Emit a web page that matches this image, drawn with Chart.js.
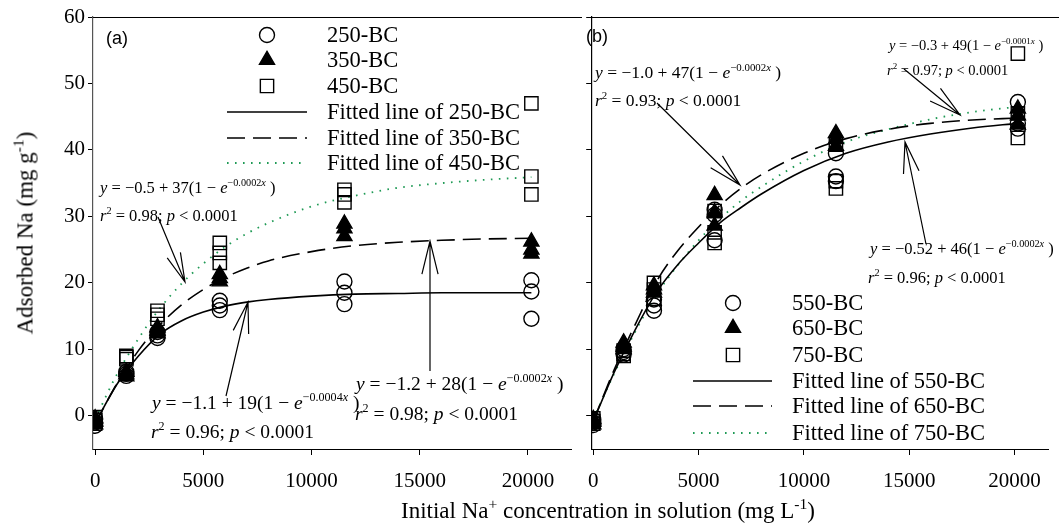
<!DOCTYPE html>
<html><head><meta charset="utf-8">
<script src="https://cdn.jsdelivr.net/npm/chart.js@4"></script>
<style>
html,body{margin:0;padding:0;background:#fff;overflow:hidden;width:1059px;height:527px;}
#wrap{position:relative;width:1059px;height:527px;background:#fff;}
canvas{position:absolute;top:0;}
.t{position:absolute;font-family:"Liberation Serif","Times New Roman",serif;font-size:23px;color:#000;white-space:nowrap;line-height:1;}
.t sup{font-size:0.68em;vertical-align:0.55em;line-height:0;}
#xt{left:608px;top:510px;transform:translate(-50%,-50%);}
#yt{left:25px;top:233px;transform:translate(-50%,-50%) rotate(-90deg);}
</style></head><body>
<div id="wrap">
<canvas id="cL" width="582" height="527" style="left:0px"></canvas>
<canvas id="cR" width="485" height="527" style="left:574px"></canvas>
<div class="t" id="xt">Initial Na<sup>+</sup> concentration in solution (mg L<sup>-1</sup>)</div>
<div class="t" id="yt">Adsorbed Na (mg g<sup>-1</sup>)</div>
</div>
<script>
// ---------------- data ----------------
const concX = [0, 1440, 2880, 5760, 11520, 20160];
const xTicks = [0, 5000, 10000, 15000, 20000];
const yTicks = [0, 10, 20, 30, 40, 50, 60];

// replicate values at each concentration (panel a)
const bc250 = [[-0.5,-1.0,-1.5],[6.0,6.3,6.6],[11.7,12.1,12.6],[15.9,16.6,17.3],[16.8,18.5,20.2],[14.6,18.7,20.4]];
const bc350 = [[-0.4,-0.9,-1.3],[5.9,6.2,6.6],[12.4,12.8,13.3],[20.2,20.7,21.3],[27.0,28.2,28.9],[24.4,25.0,26.2]];
const bc450 = [[-0.2,-0.7,-1.2],[8.5,8.8,9.0],[14.6,15.2,15.8],[23.0,24.5,26.0],[32.1,33.3,34.0],[33.3,36.0,47.0]];
// panel b
const bc550 = [[-0.6,-1.0,-1.4],[9.2,9.6,10.0],[15.8,16.6,17.5],[26.4,30.2,31.0],[35.3,36.0,39.5],[43.2,44.0,47.2]];
const bc650 = [[-0.5,-0.9,-1.3],[10.0,10.4,11.0],[18.5,19.0,19.6],[28.6,30.6,33.2],[40.6,41.6,42.5],[43.8,45.2,46.2]];
const bc750 = [[-0.4,-0.8,-1.2],[9.0,9.3,9.8],[17.6,19.0,20.0],[26.0,27.6,30.8],[34.2,35.3,40.8],[41.8,45.5,54.5]];

// fitted curves
const fitX   = [0, 1000, 2000, 3000, 4000, 5000, 6000, 7000, 8000, 10000, 12000, 14000, 16000, 18000, 20160];
const fit250 = [-1.1, 4.7, 9.0, 12.3, 14.3, 15.6, 16.5, 17.1, 17.5, 18.0, 18.3, 18.4, 18.5, 18.5, 18.5];
const fit350 = [-1.2, 4.8, 9.8, 13.7, 16.7, 19.0, 20.8, 22.2, 23.3, 24.7, 25.6, 26.1, 26.4, 26.6, 26.7];
const fit450 = [-0.5, 6.2, 11.6, 16.2, 19.9, 22.9, 25.4, 27.4, 29.0, 31.5, 33.1, 34.3, 35.0, 35.5, 35.9];
const fit550 = [-0.8, 6.6, 13.0, 18.6, 22.7, 26.0, 29.0, 31.3, 33.4, 36.9, 39.5, 41.2, 42.4, 43.3, 44.0];
const fit650 = [-0.8, 7.0, 13.8, 20.2, 24.8, 28.4, 31.6, 34.2, 36.3, 39.5, 41.7, 43.1, 44.0, 44.5, 44.8];
const fit750 = [-0.5, 6.4, 12.7, 18.2, 22.6, 26.4, 29.6, 32.3, 34.5, 38.3, 41.2, 43.1, 44.6, 45.7, 46.5];

const labelsA = ['250-BC', '350-BC', '450-BC', 'Fitted line of 250-BC', 'Fitted line of 350-BC', 'Fitted line of 450-BC'];
const labelsB = ['550-BC', '650-BC', '750-BC', 'Fitted line of 550-BC', 'Fitted line of 650-BC', 'Fitted line of 750-BC'];

// equation texts: [intercept, amplitude, rate, r2]
const eqA = [['\u22120.5', '37', '0.0002', '0.98'], ['\u22121.1', '19', '0.0004', '0.96'], ['\u22121.2', '28', '0.0002', '0.98']];
const eqB = [['\u22121.0', '47', '0.0002', '0.93'], ['\u22120.3', '49', '0.0001', '0.97'], ['\u22120.52', '46', '0.0002', '0.96']];

// ---------------- helpers ----------------
const SERIF = '"Liberation Serif","Times New Roman",serif';
const SANS = '"Liberation Sans",Arial,sans-serif';
const GREEN = '#1f9a55';

function pts(xs, reps) {
  const out = [];
  xs.forEach((x, i) => reps[i].forEach(v => out.push({x: x, y: v})));
  return out;
}
function curve(xs, ys) { return xs.map((x, i) => ({x: x, y: ys[i]})); }

const markerStyles = [
  {pointStyle: 'circle', radius: 7.5, fill: 'rgba(0,0,0,0)'},
  {pointStyle: 'triangle', radius: 8.7, fill: '#000'},
  {pointStyle: 'rect', radius: 9.4, fill: 'rgba(0,0,0,0)'}
];
const lineStyles = [
  {color: '#000', dash: [], width: 1.6},
  {color: '#000', dash: [18, 8], width: 1.6},
  {color: GREEN, dash: [1.6, 6.4], width: 1.8}
];

function datasets(series, fits) {
  const ds = [];
  series.forEach((s, i) => {
    const m = markerStyles[i];
    ds.push({data: pts(concX, s), showLine: false, pointStyle: m.pointStyle, pointRadius: m.radius,
      pointHoverRadius: m.radius, backgroundColor: m.fill, borderColor: '#000', pointBorderWidth: 1.4, borderWidth: 1.4});
  });
  fits.forEach((f, i) => {
    const l = lineStyles[i];
    ds.push({data: curve(fitX, f), showLine: true, pointRadius: 0, borderColor: l.color, borderWidth: l.width,
      borderDash: l.dash, cubicInterpolationMode: 'monotone', fill: false});
  });
  return ds;
}

function rich(ctx, x, y, size, segs) {
  let cx = x;
  ctx.fillStyle = '#000';
  ctx.textAlign = 'left';
  ctx.textBaseline = 'alphabetic';
  for (const [t, f] of segs) {
    const it = f.includes('i'), sp = f.includes('s');
    const fs = sp ? size * 0.62 : size;
    ctx.font = (it ? 'italic ' : '') + fs + 'px ' + SERIF;
    ctx.fillText(t, cx, sp ? y - size * 0.42 : y);
    cx += ctx.measureText(t).width;
  }
}
function eqLine(e) {
  return [['y', 'i'], [' = ' + e[0] + ' + ' + e[1] + '(1 \u2212 ', ''], ['e', 'i'], ['\u2212' + e[2], 's'], ['x', 'is'], [' )', '']];
}
function rLine(e) {
  return [['r', 'i'], ['2', 's'], [' = ' + e[3] + '; ', ''], ['p', 'i'], [' < 0.0001', '']];
}
function arrow(ctx, x1, y1, x2, y2, L, ang) {
  ctx.save();
  ctx.strokeStyle = '#000';
  ctx.lineWidth = 1.2;
  ctx.setLineDash([]);
  ctx.beginPath();
  ctx.moveTo(x1, y1); ctx.lineTo(x2, y2);
  const a = Math.atan2(y1 - y2, x1 - x2);
  ctx.moveTo(x2 + L * Math.cos(a + ang), y2 + L * Math.sin(a + ang));
  ctx.lineTo(x2, y2);
  ctx.lineTo(x2 + L * Math.cos(a - ang), y2 + L * Math.sin(a - ang));
  ctx.stroke();
  ctx.restore();
}
function marker(ctx, i, x, y) {
  const m = markerStyles[i];
  ctx.save();
  ctx.strokeStyle = '#000'; ctx.lineWidth = 1.4; ctx.setLineDash([]);
  ctx.beginPath();
  if (m.pointStyle === 'circle') {
    ctx.arc(x, y, m.radius, 0, Math.PI * 2);
    ctx.stroke();
  } else if (m.pointStyle === 'triangle') {
    const r = m.radius;
    ctx.moveTo(x, y - r);
    ctx.lineTo(x + Math.sin(2 * Math.PI / 3) * r, y - Math.cos(2 * Math.PI / 3) * r);
    ctx.lineTo(x + Math.sin(4 * Math.PI / 3) * r, y - Math.cos(4 * Math.PI / 3) * r);
    ctx.closePath();
    ctx.fillStyle = '#000'; ctx.fill(); ctx.stroke();
  } else {
    const s = m.radius * Math.SQRT1_2;
    ctx.rect(x - s, y - s, 2 * s, 2 * s);
    ctx.stroke();
  }
  ctx.restore();
}
function legend(ctx, labels, mx, lx1, lx2, tx, rows) {
  ctx.save();
  for (let i = 0; i < 3; i++) marker(ctx, i, mx, rows[i]);
  for (let i = 0; i < 3; i++) {
    const l = lineStyles[i];
    ctx.strokeStyle = l.color; ctx.lineWidth = l.width; ctx.setLineDash(l.dash);
    ctx.beginPath(); ctx.moveTo(lx1, rows[i + 3]); ctx.lineTo(lx2, rows[i + 3]); ctx.stroke();
  }
  ctx.setLineDash([]);
  ctx.fillStyle = '#000';
  ctx.font = '22.5px ' + SERIF;
  ctx.textAlign = 'left';
  ctx.textBaseline = 'middle';
  labels.forEach((t, i) => ctx.fillText(t, tx, rows[i] + 1));
  ctx.restore();
}
function topBorder(chart) {
  const {ctx, chartArea} = chart;
  ctx.save();
  ctx.strokeStyle = '#000'; ctx.lineWidth = 1;
  ctx.beginPath();
  ctx.moveTo(chartArea.left, Math.round(chartArea.top) + 0.5);
  ctx.lineTo(chart.width, Math.round(chartArea.top) + 0.5);
  ctx.stroke();
  ctx.restore();
}

function scales(min, max, showY, yWidth, yBorder) {
  return {
    x: {
      type: 'linear', min: min, max: max,
      afterBuildTicks: s => { s.ticks = xTicks.map(v => ({value: v})); },
      afterFit: s => { s.height = 78; },
      grid: {drawOnChartArea: false, color: '#000', tickLength: 6, lineWidth: 1},
      border: {color: '#000', width: 1},
      ticks: {color: '#000', font: {family: SERIF, size: 21}, padding: 14, maxRotation: 0, autoSkip: false,
        callback: v => String(v)}
    },
    y: {
      type: 'linear', min: -5, max: 60,
      afterBuildTicks: s => { s.ticks = yTicks.map(v => ({value: v})); },
      afterFit: s => { s.width = yWidth; },
      grid: {drawOnChartArea: false, color: '#000', tickLength: 5, lineWidth: 1},
      border: {color: yBorder, width: 1.2},
      ticks: {display: showY, color: '#000', font: {family: SERIF, size: 21}, padding: 3,
        callback: v => String(v)}
    }
  };
}

const common = {
  responsive: false, animation: false, devicePixelRatio: 1,
  plugins: {legend: {display: false}, tooltip: {enabled: false}},
  events: []
};

// ---------------- panel (a) ----------------
new Chart(document.getElementById('cL'), {
  type: 'scatter',
  data: {datasets: datasets([bc250, bc350, bc450], [fit250, fit350, fit450])},
  options: Object.assign({}, common, {
    layout: {padding: {top: 17, right: 2, left: 0, bottom: 0}},
    scales: scales(-100, 22000, true, 93, '#555')
  }),
  plugins: [{
    id: 'decoA',
    afterDraw(chart) {
      const ctx = chart.ctx;
      topBorder(chart);
      ctx.save();
      ctx.fillStyle = '#000';
      ctx.font = '18px ' + SANS;
      ctx.textBaseline = 'middle'; ctx.textAlign = 'left';
      ctx.fillText('(a)', 106, 39);
      ctx.restore();
      legend(ctx, labelsA, 267, 227, 307, 327, [35, 60, 86, 112, 138, 163]);
      rich(ctx, 100, 193, 16.5, eqLine(eqA[0]));
      rich(ctx, 100, 221, 16.5, rLine(eqA[0]));
      arrow(ctx, 158, 217, 185, 282, 30, 0.24);
      rich(ctx, 152, 409, 19.5, eqLine(eqA[1]));
      rich(ctx, 151, 438, 19.5, rLine(eqA[1]));
      arrow(ctx, 226, 396, 248, 302, 32, 0.25);
      rich(ctx, 356, 390, 19.5, eqLine(eqA[2]));
      rich(ctx, 355, 420, 19.5, rLine(eqA[2]));
      arrow(ctx, 430, 371, 430, 241, 34, 0.24);
    }
  }]
});

// ---------------- panel (b) ----------------
const OX = 574;
new Chart(document.getElementById('cR'), {
  type: 'scatter',
  data: {datasets: datasets([bc550, bc650, bc750], [fit550, fit650, fit750])},
  options: Object.assign({}, common, {
    layout: {padding: {top: 17, right: 0, left: 0, bottom: 0}},
    scales: scales(-100, 21600, false, 6, '#000')
  }),
  plugins: [{
    id: 'decoB',
    afterDraw(chart) {
      const ctx = chart.ctx;
      topBorder(chart);
      ctx.save();
      ctx.translate(-OX, 0);
      ctx.fillStyle = '#000';
      ctx.font = '18px ' + SANS;
      ctx.textBaseline = 'middle'; ctx.textAlign = 'left';
      ctx.fillText('(b)', 586, 37);
      legend(ctx, labelsB, 733, 693, 772, 792, [303, 328, 355, 381, 406, 433]);
      rich(ctx, 595, 78, 17.5, eqLine(eqB[0]));
      rich(ctx, 595, 106, 17.5, rLine(eqB[0]));
      arrow(ctx, 657, 103, 740, 185, 34, 0.25);
      rich(ctx, 889, 50, 14.5, eqLine(eqB[1]));
      rich(ctx, 887, 75, 14.5, rLine(eqB[1]));
      arrow(ctx, 904, 69, 960, 115, 33, 0.25);
      rich(ctx, 870, 254, 16.5, eqLine(eqB[2]));
      rich(ctx, 868, 283, 16.5, rLine(eqB[2]));
      arrow(ctx, 926, 244, 905, 142, 32, 0.25);
      ctx.restore();
    }
  }]
});
</script>
</body></html>
